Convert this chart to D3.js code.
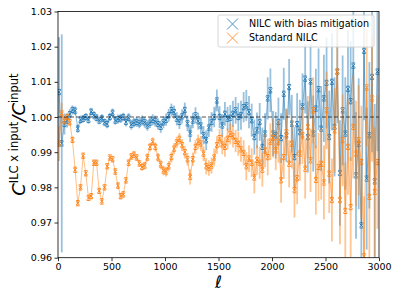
<!DOCTYPE html>
<html>
<head>
<meta charset="utf-8">
<script src="https://cdnjs.cloudflare.com/ajax/libs/d3/7.8.5/d3.min.js"></script>
<style>
    body { margin: 0; background: #fff; }
    svg { display: block; font-family: "DejaVu Sans", sans-serif; }
</style>
</head>
<body>
<div id="chart"></div>
<script>
// multipole bin centres
var ells = [
    10, 35, 60, 85, 110, 135, 160, 185, 210, 235,
    260, 285, 310, 335, 360, 385, 410, 435, 460, 485,
    510, 535, 560, 585, 610, 635, 660, 685, 710, 735,
    760, 785, 810, 835, 860, 885, 910, 935, 960, 985,
    1010, 1035, 1060, 1085, 1110, 1135, 1160, 1185, 1210, 1235,
    1260, 1285, 1310, 1335, 1360, 1385, 1410, 1435, 1460, 1485,
    1510, 1535, 1560, 1585, 1610, 1635, 1660, 1685, 1710, 1735,
    1760, 1785, 1810, 1835, 1860, 1885, 1910, 1935, 1960, 1985,
    2010, 2035, 2060, 2085, 2110, 2135, 2160, 2185, 2210, 2235,
    2260, 2285, 2310, 2335, 2360, 2385, 2410, 2435, 2460, 2485,
    2510, 2535, 2560, 2585, 2610, 2635, 2660, 2685, 2710, 2735,
    2760, 2785, 2810, 2835, 2860, 2885, 2910, 2935, 2960, 2985
];

// NILC with bias mitigation
var biasRatio = [
    1.0071, 0.9925, 0.9980, 0.9990, 1.0008, 1.0020, 1.0018, 0.9967, 0.9992, 0.9995,
    1.0000, 0.9992, 1.0015, 1.0005, 0.9998, 0.9990, 0.9996, 0.9985, 0.9980, 1.0000,
    1.0012, 0.9990, 0.9994, 0.9996, 1.0000, 0.9986, 0.9998, 0.9978, 0.9984, 0.9986,
    0.9982, 0.9990, 0.9985, 0.9976, 0.9984, 0.9992, 0.9988, 0.9980, 0.9972, 0.9985,
    0.9992, 1.0005, 1.0020, 1.0014, 0.9995, 0.9986, 1.0002, 1.0020, 0.9982, 0.9953,
    0.9990, 1.0005, 0.9988, 0.9976, 0.9948, 0.9934, 0.9970, 0.9986, 1.0000, 1.0047,
    1.0000, 0.9976, 1.0009, 0.9995, 0.9998, 1.0009, 1.0019, 1.0000, 1.0005, 1.0028,
    1.0033, 1.0014, 0.9991, 0.9943, 0.9962, 0.9986, 0.9915, 0.9953, 1.0053, 1.0076,
    0.9953, 0.9948, 0.9986, 0.9940, 1.0066, 0.9948, 1.0085, 0.9981, 0.9886, 0.9980,
    0.9957, 1.0030, 1.0109, 0.9943, 1.0101, 0.9953, 1.0024, 1.0079, 0.9967, 1.0053,
    1.0097, 0.9943, 1.0100, 0.9972, 1.0129, 0.9841, 1.0019, 0.9953, 1.0080, 1.0045,
    1.0146, 0.9834, 0.9924, 0.9692, 1.0188, 0.9825, 0.9948, 1.0114, 0.9817, 1.0129
];
var biasErr = [
    .0156, .0310, .0030, .0020, .0015, .0013, .0012, .0012, .0012, .0011,
    .0011, .0011, .0011, .0012, .0011, .0011, .0012, .0011, .0012, .0012,
    .0012, .0012, .0013, .0013, .0012, .0013, .0013, .0014, .0013, .0014,
    .0014, .0014, .0015, .0015, .0015, .0016, .0016, .0016, .0017, .0017,
    .0017, .0018, .0018, .0019, .0019, .0020, .0020, .0021, .0022, .0024,
    .0022, .0023, .0024, .0025, .0026, .0028, .0027, .0028, .0029, .0031,
    .0031, .0032, .0034, .0034, .0036, .0037, .0038, .0040, .0041, .0043,
    .0044, .0046, .0047, .0050, .0051, .0054, .0055, .0058, .0060, .0062,
    .0064, .0066, .0069, .0071, .0074, .0076, .0080, .0082, .0086, .0088,
    .0092, .0094, .0099, .0101, .0106, .0108, .0113, .0116, .0121, .0124,
    .0129, .0132, .0138, .0141, .0147, .0150, .0156, .0160, .0166, .0170,
    .0176, .0180, .0186, .0190, .0197, .0202, .0208, .0214, .0220, .0226
];

// Standard NILC
var stdRatio = [
    0.9925, 1.0010, 0.9990, 1.0000, 0.9985, 0.9935, 0.9850, 0.9755, 0.9800, 0.9890,
    0.9840, 0.9770, 0.9775, 0.9870, 0.9870, 0.9790, 0.9760, 0.9800, 0.9860, 0.9885,
    0.9880, 0.9845, 0.9805, 0.9775, 0.9780, 0.9820, 0.9870, 0.9888, 0.9893, 0.9885,
    0.9868, 0.9858, 0.9862, 0.9885, 0.9915, 0.9930, 0.9915, 0.9885, 0.9865, 0.9848,
    0.9845, 0.9860, 0.9886, 0.9910, 0.9928, 0.9938, 0.9920, 0.9900, 0.9880, 0.9830,
    0.9880, 0.9915, 0.9930, 0.9925, 0.9896, 0.9860, 0.9855, 0.9862, 0.9885, 0.9920,
    0.9940, 0.9922, 0.9915, 0.9938, 0.9952, 0.9945, 0.9932, 0.9924, 0.9908, 0.9898,
    0.9860, 0.9882, 0.9870, 0.9828, 0.9878, 0.9870, 0.9850, 0.9905, 0.9886, 0.9930,
    0.9940, 0.9905, 0.9930, 0.9820, 0.9886, 0.9957, 0.9867, 0.9924, 0.9792, 0.9826,
    0.9896, 0.9948, 0.9853, 0.9972, 0.9877, 1.0019, 0.9821, 0.9858, 0.9867, 0.9814,
    1.0019, 0.9839, 0.9764, 0.9962, 1.0129, 0.9764, 0.9934, 0.9733, 0.9915, 0.9744,
    0.9972, 0.9896, 0.9934, 0.9872, 0.9604, 1.0084, 0.9773, 1.0053, 0.9787, 0.9872
];
var stdErr = [
    .0050, .0030, .0012, .0010, .0009, .0008, .0008, .0008, .0008, .0008,
    .0008, .0008, .0008, .0008, .0008, .0008, .0008, .0008, .0008, .0008,
    .0008, .0009, .0009, .0009, .0009, .0009, .0010, .0010, .0010, .0010,
    .0010, .0011, .0011, .0012, .0012, .0012, .0013, .0013, .0014, .0014,
    .0014, .0015, .0015, .0016, .0016, .0016, .0017, .0018, .0018, .0022,
    .0019, .0019, .0020, .0021, .0021, .0023, .0022, .0023, .0025, .0025,
    .0026, .0028, .0028, .0030, .0030, .0032, .0032, .0034, .0035, .0036,
    .0040, .0038, .0041, .0045, .0043, .0046, .0048, .0048, .0052, .0052,
    .0055, .0056, .0060, .0064, .0062, .0066, .0067, .0070, .0078, .0074,
    .0077, .0082, .0085, .0088, .0090, .0094, .0098, .0097, .0102, .0105,
    .0110, .0112, .0118, .0120, .0128, .0126, .0130, .0138, .0136, .0142,
    .0146, .0150, .0156, .0160, .0170, .0168, .0175, .0180, .0184, .0190
];

var xTicks = [0, 500, 1000, 1500, 2000, 2500, 3000];
var yTicks = [0.96, 0.97, 0.98, 0.99, 1.00, 1.01, 1.02, 1.03];
var seriesNames = ["NILC with bias mitigation", "Standard NILC"];
var seriesColors = ["#1f77b4", "#ff7f0e"];

var margin = { top: 11.5, right: 20, bottom: 41.3, left: 58 };
var width = 399 - margin.left - margin.right;
var height = 299 - margin.top - margin.bottom;

var svg = d3.select("#chart")
    .append("svg")
    .attr("width", 399)
    .attr("height", 299);

var g = svg.append("g")
    .attr("transform", "translate(" + margin.left + "," + margin.top + ")");

var x = d3.scaleLinear().domain([0, 3000]).range([0, width]);
var y = d3.scaleLinear().domain([0.96, 1.03]).range([height, 0]);

g.append("clipPath").attr("id", "plotclip")
    .append("rect").attr("width", width).attr("height", height);

var series = [
    { name: seriesNames[0], color: seriesColors[0], vals: biasRatio, errs: biasErr },
    { name: seriesNames[1], color: seriesColors[1], vals: stdRatio, errs: stdErr }
];

var plot = g.append("g").attr("clip-path", "url(#plotclip)");

var line = d3.line()
    .x(function(d) { return x(d.ell); })
    .y(function(d) { return y(d.v); });

// x marker with small bars above and below, as in the original
var markerPath = "M-1.8,-1.8L1.8,1.8M-1.8,1.8L1.8,-1.8M-1.8,-2.6L1.8,-2.6M-1.8,2.6L1.8,2.6";

series.forEach(function(s) {
    var pts = ells.map(function(l, i) {
        return { ell: l, v: s.vals[i], e: s.errs[i] };
    });
    var sg = plot.append("g");

    sg.append("path")
        .datum(pts)
        .attr("d", line)
        .style("fill", "none")
        .style("stroke", s.color)
        .style("stroke-width", 1)
        .style("opacity", 0.5);

    sg.selectAll(".ebar")
        .data(pts)
        .enter()
        .append("line")
        .attr("x1", function(d) { return x(d.ell); })
        .attr("x2", function(d) { return x(d.ell); })
        .attr("y1", function(d) { return y(d.v - d.e); })
        .attr("y2", function(d) { return y(d.v + d.e); })
        .style("stroke", s.color)
        .style("stroke-width", 1.8)
        .style("opacity", 0.45);

    sg.selectAll(".mk")
        .data(pts)
        .enter()
        .append("path")
        .attr("transform", function(d) {
            return "translate(" + x(d.ell) + "," + y(d.v) + ")";
        })
        .attr("d", markerPath)
        .style("stroke", s.color)
        .style("stroke-width", 0.9)
        .style("fill", "none");
});

// reference line at unity
plot.append("line")
    .attr("x1", x(0)).attr("x2", x(3000))
    .attr("y1", y(1)).attr("y2", y(1))
    .style("stroke", "#000")
    .style("stroke-width", 1.5)
    .style("stroke-dasharray", "4,2")
    .style("opacity", 0.45);

// axes
var xAxis = g.append("g")
    .attr("transform", "translate(0," + height + ")")
    .call(d3.axisBottom(x).tickValues(xTicks).tickFormat(d3.format("d"))
        .tickSize(3.5).tickPadding(2));
var yAxis = g.append("g")
    .call(d3.axisLeft(y).tickValues(yTicks).tickFormat(d3.format(".2f"))
        .tickSize(3.5).tickPadding(2.5));

[xAxis, yAxis].forEach(function(ax) {
    ax.select(".domain").remove();
    ax.selectAll("line").style("stroke", "#000").style("stroke-width", 0.8);
    ax.selectAll("text")
        .style("font-family", "DejaVu Sans")
        .style("font-size", "9.5px")
        .style("fill", "#000");
});

g.append("rect")
    .attr("width", width)
    .attr("height", height)
    .style("fill", "none")
    .style("stroke", "#000")
    .style("stroke-width", 0.8);

// legend
var legend = svg.append("g").attr("transform", "translate(218,15)");
legend.append("rect")
    .attr("width", 156)
    .attr("height", 32)
    .attr("rx", 2)
    .style("fill", "#fff")
    .style("fill-opacity", 0.8)
    .style("stroke", "#ccc")
    .style("stroke-width", 0.8);

series.forEach(function(s, i) {
    var ly = 9 + i * 14;
    legend.append("path")
        .attr("transform", "translate(14.5," + ly + ")")
        .attr("d", "M-5.5,-5.5L5.5,5.5M-5.5,5.5L5.5,-5.5")
        .style("stroke", s.color)
        .style("stroke-width", 1)
        .style("opacity", 0.8);
    legend.append("text")
        .attr("x", 31)
        .attr("y", ly)
        .attr("dy", "0.35em")
        .style("font-size", "9.6px")
        .style("fill", "#000")
        .text(s.name);
});

// axis labels
svg.append("text")
    .attr("x", margin.left + width / 2)
    .attr("y", 288)
    .attr("text-anchor", "middle")
    .style("font-size", "17px")
    .style("font-style", "italic")
    .text("\u2113");

var ylab = svg.append("text")
    .attr("transform", "translate(25," + (margin.top + height / 2) + ") rotate(-90)")
    .attr("text-anchor", "middle")
    .style("font-size", "18px");
ylab.append("tspan").style("font-style", "italic").text("C");
ylab.append("tspan").attr("dy", -7).style("font-size", "11.5px").text("ILC x input");
ylab.append("tspan").attr("dy", 7).style("font-style", "italic").text("/C");
ylab.append("tspan").attr("dy", -7).style("font-size", "11.5px").text("input");
</script>
</body>
</html>
